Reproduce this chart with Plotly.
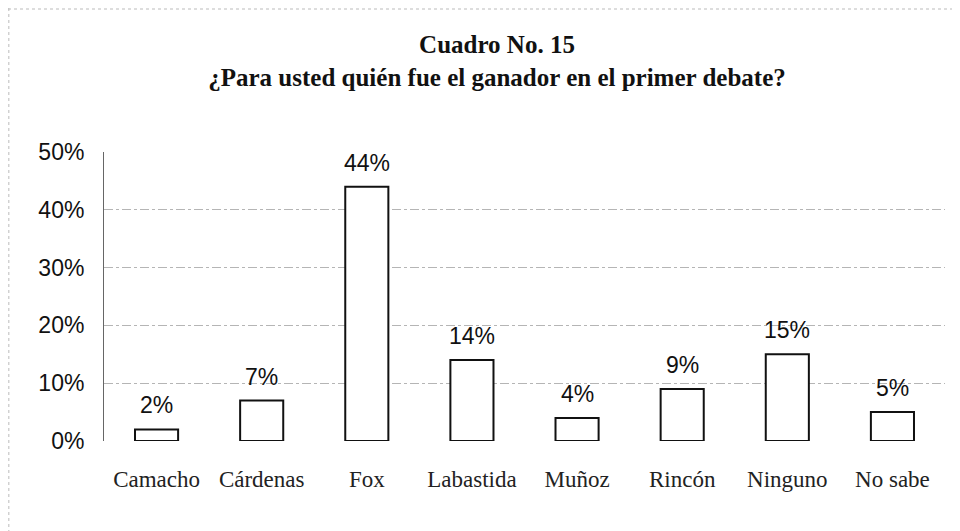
import plotly.graph_objects as go

categories = ["Camacho", "Cárdenas", "Fox", "Labastida", "Muñoz", "Rincón", "Ninguno", "No sabe"]
values = [2, 7, 44, 14, 4, 9, 15, 5]
tick_vals = [0, 10, 20, 30, 40, 50]
tick_text = ["0%", "10%", "20%", "30%", "40%", "50%"]
labels = [f"{v}%" for v in values]

L, R, T, B = 96, 23, 144, 98
W, H = 960, 531
pw, ph = W - L - R, H - T - B

fig = go.Figure()
fig.add_trace(go.Bar(
    x=categories, y=values,
    marker=dict(color="white", line=dict(color="#111", width=2)),
    width=0.41,
))

for c, v, t in zip(categories, values, labels):
    fig.add_annotation(x=c, y=v, text=t, showarrow=False, yanchor="bottom",
                       yshift=9, font=dict(family="Liberation Sans, Arial", size=23, color="#111"))

fig.update_layout(
    width=W, height=H,
    paper_bgcolor="white", plot_bgcolor="white",
    margin=dict(l=L, r=R, t=T, b=B),
    showlegend=False,
    title=dict(
        text="<b>Cuadro No. 15</b><br><b>¿Para usted quién fue el ganador en el primer debate?</b>",
        x=489 / W, xanchor="center", y=1 - 45 / H, yanchor="top",
        font=dict(family="Liberation Serif, Times New Roman", size=25, color="#111"),
    ),
    xaxis=dict(
        tickfont=dict(family="Liberation Serif, Times New Roman", size=23, color="#222"),
        showline=False, showgrid=False, ticks="", ticklabelstandoff=22,
    ),
    yaxis=dict(
        range=[0, 50], tickvals=tick_vals, ticktext=tick_text,
        tickfont=dict(family="Liberation Sans, Arial", size=23, color="#111"),
        showgrid=True, gridcolor="#b5b5b5", griddash="dashdot", gridwidth=1,
        showline=True, linecolor="#666", linewidth=1,
        ticks="", ticklabelstandoff=14, zeroline=False,
    ),
    shapes=[
        dict(type="line", xref="paper", yref="paper", x0=-L / pw, x1=(W - L) / pw,
             y0=(ph + T - 1) / ph, y1=(ph + T - 1) / ph,
             line=dict(color="#bbbbbb", width=1, dash="dot")),
        dict(type="line", xref="paper", yref="paper", x0=-L / pw + 0.001, x1=-L / pw + 0.001,
             y0=-B / ph, y1=(ph + T) / ph,
             line=dict(color="#bbbbbb", width=1, dash="dot")),
    ],
)

fig.write_html("out.html")
